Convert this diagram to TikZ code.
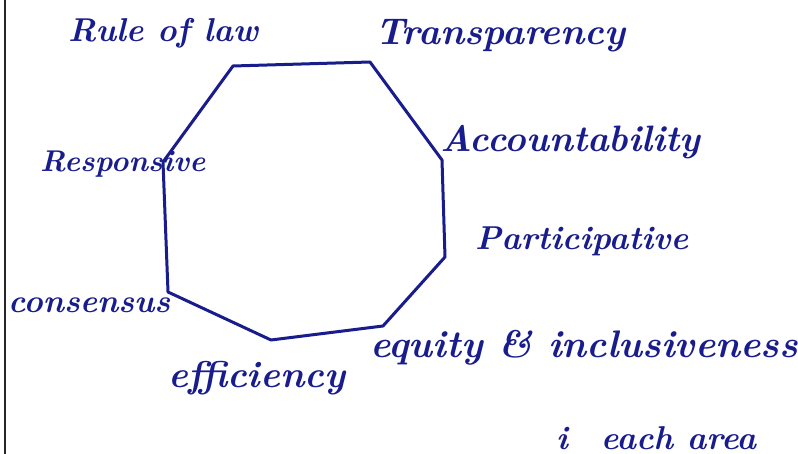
\documentclass[tikz,border=0pt]{standalone}
\usepackage{graphicx}
\definecolor{ink}{RGB}{24,28,140}
\newcommand\hw[2]{\resizebox{#1pt}{!}{\bfseries\itshape #2}}
\begin{document}
\begin{tikzpicture}[x=1pt,y=-1pt,
  lbl/.style={text=ink, inner sep=0pt, anchor=base west},
  edge/.style={draw=ink, line width=3pt, line join=round, line cap=round}]
\clip (0,0) rectangle (798,454);
\fill[white] (0,0) rectangle (798,454);
\draw[line width=2.2pt, black!85] (5,0) -- (5,454);
\coordinate (p1) at (233,66);
\coordinate (p2) at (370,62);
\coordinate (p3) at (442,160);
\coordinate (p4) at (445,257);
\coordinate (p5) at (383,326);
\coordinate (p6) at (271,340);
\coordinate (p7) at (168,292);
\coordinate (p8) at (163,162);
\draw[edge] (p1) -- (p2) -- (p3) -- (p4) -- (p5) -- (p6) -- (p7) -- (p8) -- cycle;
\node[lbl] (rule) at (68,42) {\hw{190}{Rule of law}};
\node[lbl] (trans) at (375,45) {\hw{250}{Transparency}};
\node[lbl] (acc) at (440,152) {\hw{260}{Accountability}};
\node[lbl] (resp) at (40,172) {\hw{165}{Responsive}};
\node[lbl] (part) at (475,250) {\hw{213}{Participative}};
\node[lbl] (cons) at (8,313) {\hw{162}{consensus}};
\node[lbl] (equ) at (370,357) {\hw{428}{equity \& inclusiveness}};
\node[lbl] (eff) at (168,388) {\hw{177}{efficiency}};
\node[lbl] (bot) at (556,449) {\hw{200}{i\quad each area}};
\end{tikzpicture}
\end{document}
